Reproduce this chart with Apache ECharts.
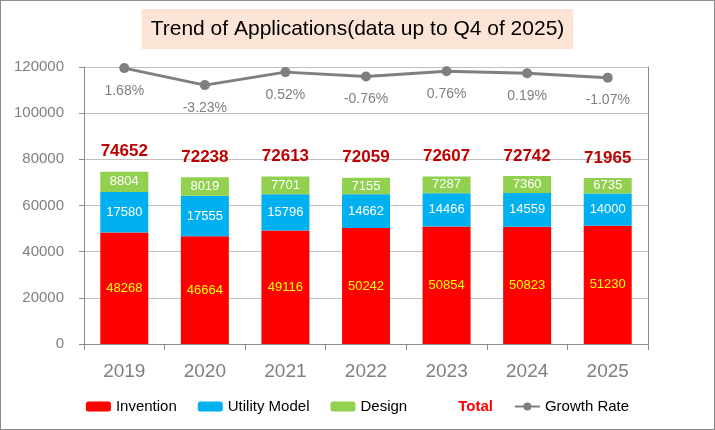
<!DOCTYPE html>
<html>
<head>
<meta charset="utf-8">
<script src="https://cdn.jsdelivr.net/npm/echarts@6/dist/echarts.min.js"></script>
<style>
    html, body { margin: 0; padding: 0; background: #fff; }
    #main { width: 715px; height: 430px; box-sizing: border-box; border: 1px solid #8c8c8c; }
</style>
</head>
<body>
<div id="main"></div>
<script>
var years = ['2019', '2020', '2021', '2022', '2023', '2024', '2025'];
var invention = [48268, 46664, 49116, 50242, 50854, 50823, 51230];
var utility = [17580, 17555, 15796, 14662, 14466, 14559, 14000];
var design = [8804, 8019, 7701, 7155, 7287, 7360, 6735];
var totals = [74652, 72238, 72613, 72059, 72607, 72742, 71965];
var growth = [1.68, -3.23, 0.52, -0.76, 0.76, 0.19, -1.07];

var chart = echarts.init(document.getElementById('main'));
var font = '"Liberation Sans", Arial, sans-serif';

var option = {
    animation: false,
    textStyle: { fontFamily: font },
    title: {
        text: 'Trend of Applications(data up to Q4 of 2025)',
        left: 'center',
        top: 8,
        backgroundColor: '#FCE4D6',
        padding: [10, 9, 9, 9],
        textStyle: { color: '#000', fontSize: 21, fontWeight: 'normal', fontFamily: font }
    },
    legend: {
        bottom: 10,
        left: 'center',
        itemWidth: 25,
        itemHeight: 10,
        itemGap: 21,
        textStyle: { color: '#000', fontSize: 15, fontFamily: font },
        data: [
            'Invention',
            'Utility Model',
            'Design',
            { name: 'Total', icon: 'none', textStyle: { color: '#FF0000', fontWeight: 'bold' } },
            'Growth Rate'
        ]
    },
    grid: { left: 83, right: 66, top: 66, bottom: 85 },
    xAxis: {
        type: 'category',
        data: years,
        axisLine: { lineStyle: { color: '#8c8c8c', width: 1 } },
        axisTick: { show: true, length: 6, lineStyle: { color: '#8c8c8c' } },
        axisLabel: { color: '#7f7f7f', fontSize: 19, margin: 18 }
    },
    yAxis: [{
        type: 'value',
        min: 0,
        max: 120000,
        interval: 20000,
        axisLine: { show: true, lineStyle: { color: '#8c8c8c' } },
        axisTick: { show: true, length: 5, lineStyle: { color: '#8c8c8c' } },
        axisLabel: {
            color: '#7f7f7f',
            fontSize: 15,
            margin: 20,
            formatter: function (v) { return String(v); }
        },
        splitLine: { lineStyle: { color: '#c0c0c0' } }
    }, {
        type: 'value',
        min: -78,
        max: 2,
        position: 'right',
        axisLine: { show: true, lineStyle: { color: '#8c8c8c' } },
        axisTick: { show: false },
        axisLabel: { show: false },
        splitLine: { show: false }
    }],
    series: [{
        name: 'Invention',
        type: 'bar',
        stack: 'apps',
        barWidth: 48,
        itemStyle: { color: '#FF0000' },
        label: { show: true, position: 'inside', color: '#FFFF00', fontSize: 13 },
        data: invention
    }, {
        name: 'Utility Model',
        type: 'bar',
        stack: 'apps',
        itemStyle: { color: '#00B0F0' },
        label: { show: true, position: 'inside', color: '#FFFFFF', fontSize: 13 },
        data: utility
    }, {
        name: 'Design',
        type: 'bar',
        stack: 'apps',
        itemStyle: { color: '#92D050' },
        label: { show: true, position: 'inside', color: '#FFFFFF', fontSize: 13 },
        data: design
    }, {
        name: 'Total',
        type: 'line',
        data: totals,
        symbol: 'circle',
        symbolSize: 1,
        showSymbol: true,
        lineStyle: { width: 0, color: 'transparent' },
        itemStyle: { color: 'transparent' },
        label: {
            show: true,
            position: 'top',
            distance: 11,
            color: '#C00000',
            fontSize: 17,
            fontWeight: 'bold'
        },
        z: 5
    }, {
        name: 'Growth Rate',
        type: 'line',
        yAxisIndex: 1,
        data: growth,
        symbol: 'circle',
        symbolSize: 10,
        lineStyle: { color: '#7f7f7f', width: 3 },
        itemStyle: { color: '#7f7f7f' },
        label: {
            show: true,
            position: 'bottom',
            distance: 11,
            color: '#7f7f7f',
            fontSize: 14,
            formatter: function (p) { return p.value.toFixed(2) + '%'; }
        }
    }]
};
chart.setOption(option);
</script>
</body>
</html>
